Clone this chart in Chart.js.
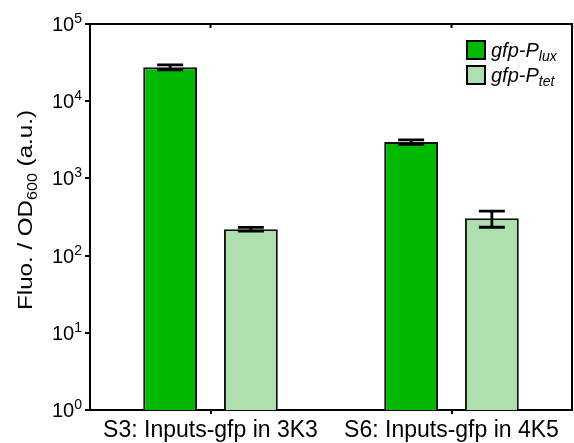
<!DOCTYPE html>
<html>
<head>
<meta charset="utf-8">
<script src="https://cdn.jsdelivr.net/npm/chart.js@4"></script>
<style>
  html, body { margin: 0; padding: 0; background: #fff; }
  #chart-con { width: 574px; height: 443px; }
</style>
</head>
<body>
<div id="chart-con"><canvas id="my-chart-fluo"></canvas></div>
<script>
const categories = ['S3: Inputs-gfp in 3K3', 'S6: Inputs-gfp in 4K5'];
const luxValues = [27500, 2960];
const tetValues = [220, 305];
const luxErrors = [2000, 200];
const tetErrors = [12, 72];
const yTickValues = [1, 10, 100, 1000, 10000, 100000];

const FONT = "'Liberation Sans', Arial, sans-serif";

// error bars, tick labels with exponents, frame, axis title and legend
const decorations = {
    id: 'decorations',
    afterDatasetsDraw(chart) {
        const ctx = chart.ctx;
        const yScale = chart.scales.y;
        ctx.save();
        ctx.strokeStyle = '#000';
        ctx.lineWidth = 2.8;
        [luxErrors, tetErrors].forEach((errs, di) => {
            const meta = chart.getDatasetMeta(di);
            meta.data.forEach((bar, i) => {
                const v = chart.data.datasets[di].data[i];
                const yHi = yScale.getPixelForValue(v + errs[i]);
                const yLo = yScale.getPixelForValue(v - errs[i]);
                const half = 13;
                ctx.beginPath();
                ctx.moveTo(bar.x, yHi); ctx.lineTo(bar.x, yLo);
                ctx.moveTo(bar.x - half, yHi); ctx.lineTo(bar.x + half, yHi);
                ctx.moveTo(bar.x - half, yLo); ctx.lineTo(bar.x + half, yLo);
                ctx.stroke();
            });
        });
        ctx.restore();
    },
    afterDraw(chart) {
        const ctx = chart.ctx;
        const area = chart.chartArea;
        const yScale = chart.scales.y;
        const xScale = chart.scales.x;
        ctx.save();

        // frame top and right
        ctx.strokeStyle = '#000';
        ctx.lineWidth = 2;
        ctx.beginPath();
        ctx.moveTo(area.left - 5, area.top);
        ctx.lineTo(area.right, area.top);
        ctx.lineTo(area.right, area.bottom);
        ctx.stroke();
        // inner ticks on the top edge
        categories.forEach((c, i) => {
            const x = xScale.getPixelForValue(i);
            ctx.beginPath();
            ctx.moveTo(x, area.top);
            ctx.lineTo(x, area.top + 4);
            ctx.stroke();
        });

        // y tick labels: 10 with exponent
        ctx.fillStyle = '#000';
        yTickValues.forEach(v => {
            const y = yScale.getPixelForValue(v);
            const exp = String(Math.round(Math.log10(v)));
            ctx.font = '14px ' + FONT;
            ctx.textAlign = 'right';
            ctx.textBaseline = 'alphabetic';
            const right = area.left - 8;
            ctx.fillText(exp, right, y - 1);
            const w = ctx.measureText(exp).width;
            ctx.font = '20px ' + FONT;
            ctx.fillText('10', right - w, y + 7);
        });

        // y axis title with subscript
        ctx.save();
        ctx.translate(32, 210);
        ctx.rotate(-Math.PI / 2);
        ctx.scale(1.15, 1);
        const parts = [
            { t: 'Fluo. / OD', f: '21px ' + FONT, dy: 0 },
            { t: '600', f: '14px ' + FONT, dy: 5 },
            { t: ' (a.u.)', f: '21px ' + FONT, dy: 0 }
        ];
        let total = 0;
        parts.forEach(p => { ctx.font = p.f; p.w = ctx.measureText(p.t).width; total += p.w; });
        let x = -total / 2;
        ctx.textAlign = 'left';
        parts.forEach(p => {
            ctx.font = p.f;
            ctx.fillText(p.t, x, p.dy);
            x += p.w;
        });
        ctx.restore();

        // legend
        const legend = [
            { sub: 'lux', color: chart.data.datasets[0].backgroundColor },
            { sub: 'tet', color: chart.data.datasets[1].backgroundColor }
        ];
        legend.forEach((item, i) => {
            const top = 41 + i * 25;
            ctx.fillStyle = item.color;
            ctx.fillRect(467, top, 18, 18);
            ctx.strokeStyle = '#000';
            ctx.lineWidth = 2;
            ctx.strokeRect(467, top, 18, 18);
            ctx.fillStyle = '#000';
            ctx.textAlign = 'left';
            ctx.font = 'italic 20px ' + FONT;
            ctx.fillText('gfp-P', 491, top + 16);
            const w = ctx.measureText('gfp-P').width;
            ctx.font = 'italic 14px ' + FONT;
            ctx.fillText(item.sub, 491 + w, top + 20);
        });

        ctx.restore();
    }
};

const data = {
    labels: categories,
    datasets: [{
        label: 'gfp-Plux',
        data: luxValues,
        backgroundColor: '#00b900',
        borderColor: '#111',
        borderWidth: 2,
        categoryPercentage: 0.67,
        barPercentage: 0.667
    }, {
        label: 'gfp-Ptet',
        data: tetValues,
        backgroundColor: '#aedfae',
        borderColor: '#111',
        borderWidth: 2,
        categoryPercentage: 0.67,
        barPercentage: 0.667
    }]
};

const config = {
    type: 'bar',
    data,
    plugins: [decorations],
    options: {
        responsive: false,
        animation: false,
        layout: { padding: { top: 24, right: 2, left: 0, bottom: 0 } },
        plugins: {
            legend: { display: false },
            tooltip: { enabled: false }
        },
        scales: {
            x: {
                grid: { display: true, drawOnChartArea: false, drawTicks: true, tickLength: 4, color: '#000', lineWidth: 2, offset: false },
                border: { display: true, color: '#000', width: 2 },
                ticks: { color: '#000', font: { family: FONT, size: 23 }, padding: 3 },
                afterFit(scale) { scale.height = 33; }
            },
            y: {
                type: 'logarithmic',
                min: 1,
                max: 100000,
                grid: { display: true, drawOnChartArea: false, drawTicks: true, tickLength: 5, color: '#000', lineWidth: 2 },
                border: { display: true, color: '#000', width: 2 },
                ticks: { display: false },
                afterBuildTicks(scale) { scale.ticks = yTickValues.map(v => ({ value: v })); },
                afterFit(scale) { scale.width = 90; }
            }
        }
    }
};

const canvas = document.getElementById('my-chart-fluo');
canvas.width = 574;
canvas.height = 443;
var myChart = new Chart(canvas.getContext('2d'), config);
</script>
</body>
</html>
